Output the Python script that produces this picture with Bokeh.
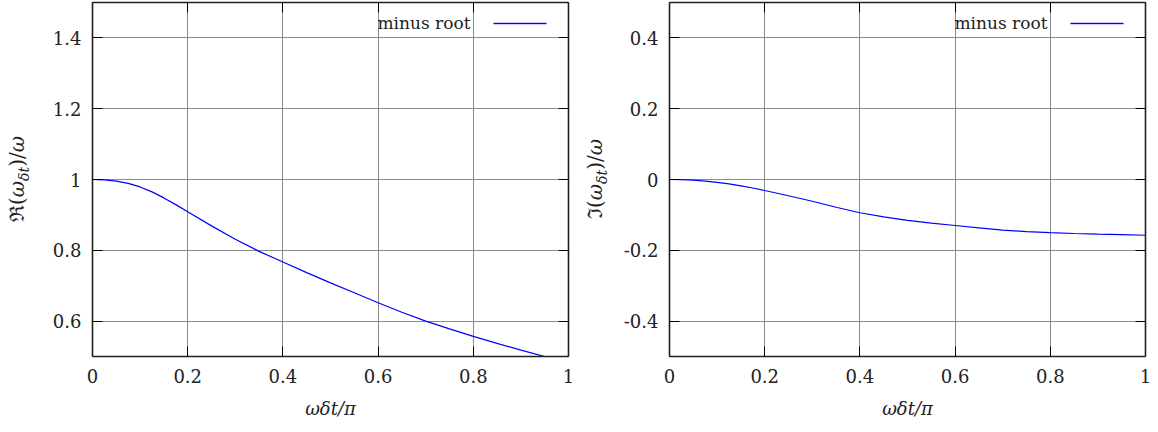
import numpy as np
from bokeh.plotting import figure
from bokeh.models import Range1d, FixedTicker, LinearAxis, Label, Div
from bokeh.layouts import row
from bokeh.embed import file_html
from bokeh.resources import INLINE

# ---------------- data ----------------
omega_dt_over_pi = [0.000, 0.025, 0.050, 0.075, 0.100, 0.125, 0.150, 0.175, 0.200, 0.250, 0.300,
                    0.350, 0.400, 0.450, 0.500, 0.550, 0.600, 0.650, 0.700, 0.750, 0.800,
                    0.850, 0.900, 0.950, 1.000]
re_minus_root = [1.0000, 0.9989, 0.9955, 0.9890, 0.9790, 0.9650, 0.9480, 0.9290, 0.9090, 0.8690, 0.8310,
                 0.7970, 0.7670, 0.7370, 0.7080, 0.6800, 0.6520, 0.6250, 0.6000, 0.5780, 0.5570,
                 0.5370, 0.5180, 0.5000, 0.4820]
im_minus_root = [0.0000, -0.0005, -0.0020, -0.0045, -0.0080, -0.0125, -0.0180, -0.0240, -0.0310, -0.0460, -0.0615,
                 -0.0785, -0.0940, -0.1055, -0.1155, -0.1235, -0.1300, -0.1365, -0.1430, -0.1470, -0.1500,
                 -0.1525, -0.1545, -0.1560, -0.1575]
series_name = "minus root"
x_ticks = [0, 0.2, 0.4, 0.6, 0.8, 1]
x_tick_labels = ["0", "0.2", "0.4", "0.6", "0.8", "1"]
re_ticks = [0.6, 0.8, 1.0, 1.2, 1.4]
re_tick_labels = ["0.6", "0.8", "1", "1.2", "1.4"]
im_ticks = [-0.4, -0.2, 0.0, 0.2, 0.4]
im_tick_labels = ["-0.4", "-0.2", "0", "0.2", "0.4"]
x_title = "ωδt/π"
re_title = ("ℜ(", "ω", "δt", ")/", "ω")
im_title = ("ℑ(", "ω", "δt", ")/", "ω")

FONT = "DejaVu Serif"
FS = "17px"
FRAME_W, FRAME_H = 476, 354
TOP, BOTTOM = 2, 76
H = TOP + FRAME_H + BOTTOM
LABEL_W = 40
LINE_BLUE = "#0000ff"
BLUE_RGBA = 0xFFFF0000  # opaque blue as little-endian RGBA uint32
TEXT = "#222222"
BORDER = "#202020"


def make_panel(ys, yr, yticks, ylabels, border_left, border_right):
    p = figure(width=border_left + FRAME_W + border_right, height=H,
               x_range=Range1d(0, 1), y_range=Range1d(*yr),
               output_backend="svg", toolbar_location=None,
               min_border_left=border_left, min_border_right=border_right,
               min_border_top=TOP, min_border_bottom=BOTTOM)
    p.background_fill_color = "white"
    p.border_fill_color = "white"
    p.outline_line_color = None

    dy = (yr[1] - yr[0]) / FRAME_H

    def px_to_x(px):  # px measured from the frame's left edge
        return px / FRAME_W

    def py_to_y(py):  # py measured from the frame's top edge
        return yr[1] - py * dy

    for ax, ticks, labels in ((p.xaxis[0], x_ticks, x_tick_labels), (p.yaxis[0], yticks, ylabels)):
        ax.ticker = FixedTicker(ticks=ticks)
        ax.major_label_overrides = {t: l for t, l in zip(ticks, labels)}
        ax.major_tick_in = 10
        ax.major_tick_out = 0
        ax.major_tick_line_color = "black"
        ax.minor_tick_line_color = None
        ax.axis_line_color = BORDER
        ax.axis_line_width = 1.6
        ax.major_label_text_font = FONT
        ax.major_label_text_font_size = "18px"
        ax.major_label_text_color = TEXT
    p.xaxis.major_label_standoff = 12
    p.yaxis.major_label_standoff = 11
    p.xaxis.axis_label = x_title
    p.xaxis.axis_label_text_font = FONT
    p.xaxis.axis_label_text_font_size = "18px"
    p.xaxis.axis_label_text_font_style = "italic"
    p.xaxis.axis_label_text_color = TEXT
    p.xaxis.axis_label_standoff = 12

    # mirrored ticks and frame edges (gnuplot style)
    top = LinearAxis(ticker=FixedTicker(ticks=x_ticks),
                     major_label_overrides={t: "" for t in x_ticks},
                     major_label_text_font_size="1px", major_label_standoff=0,
                     major_tick_in=10, major_tick_out=0, major_tick_line_color="black",
                     minor_tick_line_color=None, axis_line_color=BORDER, axis_line_width=1.6)
    right = LinearAxis(ticker=FixedTicker(ticks=yticks),
                       major_label_overrides={t: "" for t in yticks},
                       major_label_text_font_size="1px", major_label_standoff=0,
                       major_tick_in=10, major_tick_out=0, major_tick_line_color="black",
                       minor_tick_line_color=None, axis_line_color=BORDER, axis_line_width=1.6)
    p.add_layout(top, "above")
    p.add_layout(right, "right")

    p.xgrid.grid_line_color = "#8a8a8a"
    p.ygrid.grid_line_color = "#8a8a8a"

    # key sample (gnuplot order: text, then sample) drawn as a thin blue image strip
    key_img = np.full((1, 53), BLUE_RGBA, dtype=np.uint32)
    p.image_rgba(image=[key_img], x=px_to_x(401), y=py_to_y(21.7),
                 dw=53 / FRAME_W, dh=1.4 * dy)

    p.line(omega_dt_over_pi, ys, line_color=LINE_BLUE, line_width=1.2)

    p.add_layout(Label(x=px_to_x(378), y=py_to_y(20), text=series_name,
                       text_font=FONT, text_font_size=FS, text_align="right",
                       text_baseline="middle", text_color=TEXT))
    return p


def y_title_div(parts, cx):
    a, w1, sub, b, w2 = parts
    html = ('<div style="position:relative;width:%dpx;height:%dpx;">'
            '<span style="position:absolute;left:%dpx;top:%dpx;'
            'transform:translate(-50%%,-50%%) rotate(-90deg);white-space:nowrap;'
            'font-family:\'DejaVu Serif\';font-size:20px;line-height:1;color:%s;">'
            '%s<i>%s</i><sub style="font-size:14px;"><i>%s</i></sub>%s<i>%s</i></span></div>'
            % (LABEL_W, H, cx, TOP + FRAME_H // 2, TEXT, a, w1, sub, b, w2))
    return Div(text=html, width=LABEL_W, height=H, margin=0)


p1 = make_panel(re_minus_root, (0.5, 1.5), re_ticks, re_tick_labels, 92 - LABEL_W, 8)
p2 = make_panel(im_minus_root, (-0.5, 0.5), im_ticks, im_tick_labels, 93 - LABEL_W, 13)
d1 = y_title_div(re_title, 19)
d2 = y_title_div(im_title, 21)

p = row(d1, p1, d2, p2)
open("out.html", "w").write(file_html(p, INLINE))
